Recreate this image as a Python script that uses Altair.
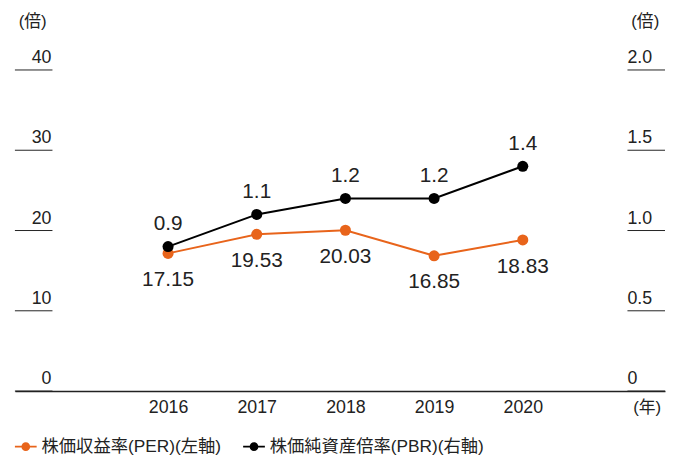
import altair as alt
import pandas as pd

# ---- data ----
years = [2016, 2017, 2018, 2019, 2020]
per_values = [17.15, 19.53, 20.03, 16.85, 18.83]
pbr_values = [0.9, 1.1, 1.2, 1.2, 1.4]
per_name = "株価収益率(PER)(左軸)"
pbr_name = "株価純資産倍率(PBR)(右軸)"
left_tick_values = [0, 10, 20, 30, 40]
left_tick_labels = ["0", "10", "20", "30", "40"]
right_tick_values = [0, 0.5, 1.0, 1.5, 2.0]
right_tick_labels = ["0", "0.5", "1.0", "1.5", "2.0"]
unit_label = "(倍)"
year_unit = "(年)"

ORANGE = "#E8641B"
BLACK = "#000000"
TEXT = "#222222"
FONT = "Liberation Sans, Noto Sans CJK JP, sans-serif"

per_df = pd.DataFrame({"year": years, "value": per_values, "series": per_name})
pbr_df = pd.DataFrame({"year": years, "value": pbr_values, "series": pbr_name})
lt_df = pd.DataFrame({"v": left_tick_values, "label": left_tick_labels})
rt_df = pd.DataFrame({"v": right_tick_values, "label": right_tick_labels})

xscale = alt.Scale(domain=[2014.273, 2021.604], nice=False, zero=False)
xaxis = alt.Axis(values=years, format="d", title=None, grid=False, ticks=False,
                 tickSize=0, labelPadding=8, labelFont=FONT, labelFontSize=18,
                 labelColor=TEXT, domainColor="#222222", domainWidth=1.5)
X = alt.X("year:Q", scale=xscale, axis=xaxis)

yl = alt.Scale(domain=[0, 40], nice=False, zero=True)
yr = alt.Scale(domain=[0, 2], nice=False, zero=True)

sym = ("M-1,-0.09 H1 V0.09 H-1 Z "
       "M0.4,0 A0.4,0.4 0 1 1 -0.4,0 A0.4,0.4 0 1 1 0.4,0 Z")
color = alt.Color("series:N",
                  scale=alt.Scale(domain=[per_name, pbr_name], range=[ORANGE, BLACK]),
                  legend=alt.Legend(title=None, orient="none", legendX=0, legendY=370,
                                    direction="horizontal", symbolType=sym,
                                    symbolSize=484, symbolStrokeWidth=0,
                                    symbolOpacity=1, labelFont=FONT,
                                    labelFontSize=17.5, labelColor=TEXT, labelLimit=400,
                                    labelOffset=5, columnPadding=22, padding=0))

# left layers
per_line = alt.Chart(per_df).mark_line(color=ORANGE, strokeWidth=2).encode(
    x=X, y=alt.Y("value:Q", scale=yl, axis=None))
per_pts = alt.Chart(per_df).mark_point(filled=True, size=125, opacity=1).encode(
    x=X, y=alt.Y("value:Q", scale=yl, axis=None), color=color)
per_txt = alt.Chart(per_df).mark_text(dy=27, font=FONT, fontSize=21, color=TEXT).encode(
    x=X, y=alt.Y("value:Q", scale=yl, axis=None), text=alt.Text("value:Q", format=".2f"))
lt_rule = alt.Chart(lt_df).mark_rule(color="#222222", strokeWidth=1).encode(
    x=alt.value(0), x2=alt.value(38), y=alt.Y("v:Q", scale=yl, axis=None))
lt_txt = alt.Chart(lt_df).mark_text(align="right", baseline="bottom", dy=-3, font=FONT,
                                    fontSize=18, color=TEXT).encode(
    x=alt.value(37), y=alt.Y("v:Q", scale=yl, axis=None), text="label:N")
left = alt.layer(lt_rule, lt_txt, per_line, per_pts, per_txt)

# right layers
pbr_line = alt.Chart(pbr_df).mark_line(color=BLACK, strokeWidth=2).encode(
    x=X, y=alt.Y("value:Q", scale=yr, axis=None))
pbr_pts = alt.Chart(pbr_df).mark_point(filled=True, size=125, opacity=1).encode(
    x=X, y=alt.Y("value:Q", scale=yr, axis=None), color=color)
pbr_txt = alt.Chart(pbr_df).mark_text(dy=-23, font=FONT, fontSize=21, color=TEXT).encode(
    x=X, y=alt.Y("value:Q", scale=yr, axis=None), text=alt.Text("value:Q", format=".1f"))
rt_rule = alt.Chart(rt_df).mark_rule(color="#222222", strokeWidth=1).encode(
    x=alt.value(620), x2=alt.value(658), y=alt.Y("v:Q", scale=yr, axis=None))
rt_txt = alt.Chart(rt_df).mark_text(align="left", baseline="bottom", dy=-3, font=FONT,
                                    fontSize=18, color=TEXT).encode(
    x=alt.value(620), y=alt.Y("v:Q", scale=yr, axis=None), text="label:N")
right = alt.layer(rt_rule, rt_txt, pbr_line, pbr_pts, pbr_txt)

# annotations
ann_df = pd.DataFrame({"t": [unit_label]})
unit_left = alt.Chart(ann_df).mark_text(font=FONT, fontSize=17, color=TEXT).encode(
    x=alt.value(18), y=alt.value(-48), text="t:N")
unit_right = alt.Chart(ann_df).mark_text(font=FONT, fontSize=17, color=TEXT).encode(
    x=alt.value(638), y=alt.value(-48), text="t:N")
yr_df = pd.DataFrame({"t": [year_unit]})
year_txt = alt.Chart(yr_df).mark_text(font=FONT, fontSize=17, color=TEXT).encode(
    x=alt.value(640), y=alt.value(342), text="t:N")

chart = alt.layer(left, right, unit_left, unit_right, year_txt).resolve_scale(
    y="independent").properties(
    width=658, height=325,
    padding={"left": 7, "top": 60, "right": 1, "bottom": 63},
    autosize=alt.AutoSizeParams(type="none"),
).configure_view(stroke=None)

chart.save("out.html", embed_options={"renderer": "svg", "actions": False})
